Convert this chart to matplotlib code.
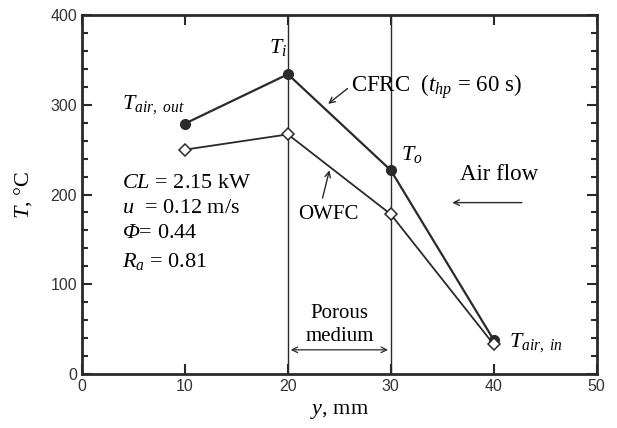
import matplotlib
matplotlib.use("Agg")
import matplotlib.pyplot as plt
from matplotlib.ticker import MultipleLocator

# values
y_mm = [10, 20, 30, 40]
T_cfrc = [279, 334, 227, 38]
T_owfc = [250, 267, 178, 33]
x_ticks = [0, 10, 20, 30, 40, 50]
y_ticks = [0, 100, 200, 300, 400]
porous_edges = [20, 30]

plt.rcParams["font.family"] = ["Liberation Serif", "DejaVu Serif"]
plt.rcParams["mathtext.fontset"] = "custom"
plt.rcParams["mathtext.rm"] = "Liberation Serif"
plt.rcParams["mathtext.it"] = "Liberation Serif:italic"
# italic greek capitals (mathtext forces them upright in 'it')
plt.rcParams["mathtext.sf"] = "Liberation Serif:italic"

fig = plt.figure(figsize=(6.17, 4.28), dpi=100)
ax = fig.add_axes([0.133, 0.126, 0.834, 0.839])

ax.plot(y_mm, T_cfrc, "-o", color="#2a2a2a", lw=1.6, ms=7, mfc="#2a2a2a", zorder=3)
ax.plot(y_mm, T_owfc, "-D", color="#2a2a2a", lw=1.3, ms=6, mfc="white", mew=1.1, zorder=3)
for xe in porous_edges:
    ax.axvline(xe, color="#2a2a2a", lw=1.0, zorder=1)

ax.set_xlim(0, 50)
ax.set_ylim(0, 400)
ax.set_xticks(x_ticks)
ax.set_yticks(y_ticks)
ax.yaxis.set_minor_locator(MultipleLocator(20))
ax.tick_params(which="both", direction="in", top=True, right=True,
               labelsize=11.5, width=1.5, color="#2a2a2a")
ax.tick_params(which="major", length=7)
ax.tick_params(which="minor", length=4)
for lab in ax.get_xticklabels() + ax.get_yticklabels():
    lab.set_family("Liberation Sans")
    lab.set_color("#333333")
for sp in ax.spines.values():
    sp.set_linewidth(2.0)
    sp.set_color("#2a2a2a")

ax.set_xlabel("$y$, mm", fontsize=16, labelpad=6)
ax.set_ylabel("$T$, °C", fontsize=16, labelpad=12)

fs = 16
ax.text(3.9, 296, "$T_{air,\\ out}$", fontsize=fs)
ax.text(18.2, 358, "$T_i$", fontsize=fs)
ax.text(31.0, 239, "$T_o$", fontsize=fs)
ax.text(41.5, 30, "$T_{air,\\ in}$", fontsize=fs)

ax.text(26.1, 320, "CFRC  ($t_{hp}$ = 60 s)", fontsize=16.5, va="center")
ax.annotate("", xy=(23.7, 299), xytext=(26.0, 320),
            arrowprops=dict(arrowstyle="->", color="#2a2a2a", lw=1.0))
ax.text(21.0, 178, "OWFC", fontsize=fs - 1, va="center")
ax.annotate("", xy=(24.1, 230), xytext=(23.3, 193),
            arrowprops=dict(arrowstyle="->", color="#2a2a2a", lw=1.0))

ax.text(36.7, 222, "Air flow", fontsize=16.5, va="center")
ax.annotate("", xy=(35.7, 191), xytext=(43.0, 191),
            arrowprops=dict(arrowstyle="->", color="#2a2a2a", lw=1.0))

ax.text(25, 55, "Porous\nmedium", fontsize=fs - 1, ha="center", va="center",
        linespacing=1.3)
ax.annotate("", xy=(20, 27), xytext=(30, 27),
            arrowprops=dict(arrowstyle="<->", color="#2a2a2a", lw=0.9))

params = "$CL$ = 2.15 kW\n$u$  = 0.12 m/s\n$\\mathsf{\\Phi}$= 0.44\n$R_a$ = 0.81"
ax.text(3.9, 223, params, fontsize=fs, va="top", linespacing=1.45)

fig.savefig("out.png", dpi=100)
